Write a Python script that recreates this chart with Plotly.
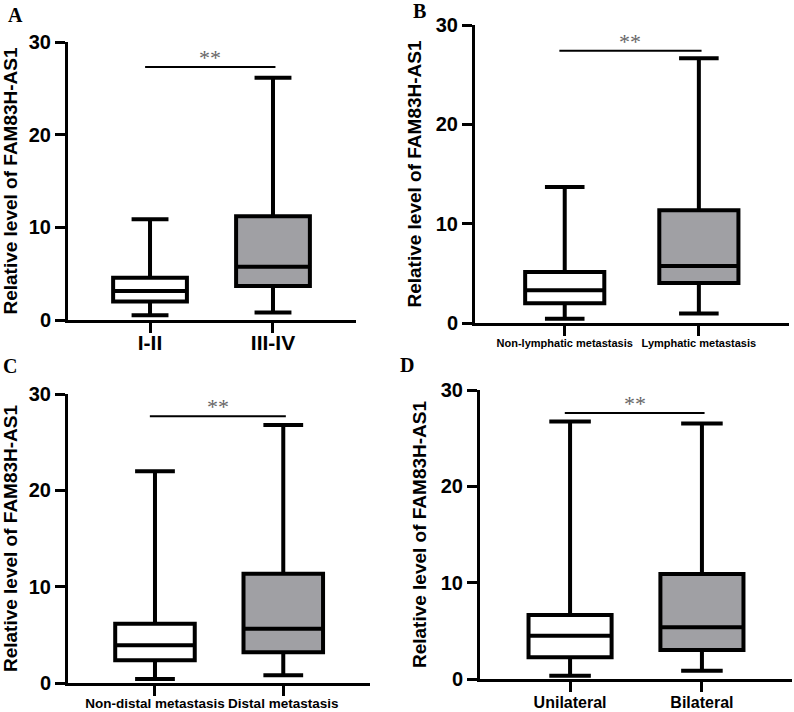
import plotly.graph_objects as go

# ---------------- data ----------------
panel_letters = ["A", "B", "C", "D"]
group_labels = [
    ["I-II", "III-IV"],
    ["Non-lymphatic metastasis", "Lymphatic metastasis"],
    ["Non-distal metastasis", "Distal metastasis"],
    ["Unilateral", "Bilateral"],
]
mins = [[0.5, 0.8], [0.44, 0.95], [0.42, 0.8], [0.35, 0.86]]
q1s = [[2.0, 3.67], [2.0, 4.03], [2.36, 3.19], [2.25, 3.0]]
medians = [[3.13, 5.75], [3.3, 5.75], [3.92, 5.62], [4.5, 5.36]]
q3s = [[4.57, 11.2], [5.14, 11.36], [6.14, 11.34], [6.64, 10.89]]
maxs = [[10.86, 26.15], [13.7, 26.65], [21.99, 26.78], [26.73, 26.52]]
sig_levels = [27.3, 27.4, 27.7, 27.6]
sig_text = ["**", "**", "**", "**"]
y_ticks = [0, 10, 20, 30]
y_title = "Relative level of FAM83H-AS1"

# ---------------- layout helpers ----------------
W, H = 794, 712
# pixel boxes of each plot area: (x_left, x_right, y_top, y_bottom)
areas = [(68, 356, 42, 320), (475, 789, 25, 323), (68, 370, 394, 683), (480, 792, 390, 679)]
xranges = [[-0.667, 1.675], [-0.669, 1.672], [-0.678, 1.676], [-0.683, 1.683]]
box_widths = [0.6, 0.59, 0.62, 0.63]
xtick_sizes = [21, 11, 13.5, 16]
xtick_standoff = [-8, -2, -4, -3]
letter_pos = [(15, 15), (419, 11), (10, 366), (407, 365)]
fills = ["white", "#a0a0a4"]

fig = go.Figure()
annotations = []
shapes = []
for p in range(4):
    ax = "" if p == 0 else str(p + 1)
    xa, ya = "x" + ax, "y" + ax
    for g in range(2):
        fig.add_trace(go.Box(
            x=[g], q1=[q1s[p][g]], median=[medians[p][g]], q3=[q3s[p][g]],
            lowerfence=[mins[p][g]], upperfence=[maxs[p][g]],
            fillcolor=fills[g], line=dict(color="black", width=4),
            whiskerwidth=0.5, width=box_widths[p], boxpoints=False,
            xaxis=xa, yaxis=ya, showlegend=False, hoverinfo="skip",
        ))
    xl, xr, yt, yb = areas[p]
    axis_common = dict(showline=True, linecolor="black", linewidth=3,
                       ticks="outside", ticklen=10, tickwidth=3, tickcolor="black",
                       showgrid=False, zeroline=False, fixedrange=True,
                       automargin=False)
    fig.layout["xaxis" + ax] = dict(
        domain=[xl / W, xr / W], range=xranges[p], anchor=ya,
        tickvals=[0, 1], ticktext=group_labels[p],
        ticklabelstandoff=xtick_standoff[p],
        tickfont=dict(family="Arial, Liberation Sans", size=xtick_sizes[p],
                      color="black", weight="bold"),
        **axis_common)
    fig.layout["yaxis" + ax] = dict(
        domain=[1 - yb / H, 1 - yt / H], range=[0, 30], anchor=xa,
        tickvals=y_ticks,
        tickfont=dict(family="Arial, Liberation Sans", size=20, color="black", weight="bold"),
        title=dict(text=y_title, standoff=10,
                   font=dict(family="Arial, Liberation Sans", size=19, color="black",
                             weight="bold")),
        **axis_common)
    # significance bar
    shapes.append(dict(type="line", xref=xa, yref=ya, x0=-0.04, x1=1.02,
                       y0=sig_levels[p], y1=sig_levels[p],
                       line=dict(color="black", width=2)))
    annotations.append(dict(xref=xa, yref=ya, x=0.49, y=sig_levels[p],
                            text=sig_text[p], showarrow=False, yanchor="bottom",
                            yshift=-5,
                            font=dict(family="Liberation Serif, Times New Roman", size=22,
                                      color="#666666")))
    lx, ly = letter_pos[p]
    annotations.append(dict(xref="paper", yref="paper", x=lx / W, y=1 - ly / H,
                            text="<b>" + panel_letters[p] + "</b>", showarrow=False,
                            xanchor="center", yanchor="middle",
                            font=dict(family="Liberation Serif, Times New Roman", size=20,
                                      color="black")))

fig.update_layout(width=W, height=H, margin=dict(l=0, r=0, t=0, b=0, autoexpand=False),
                  plot_bgcolor="white", paper_bgcolor="white",
                  annotations=annotations, shapes=shapes, boxmode="overlay")
fig.write_html("out.html")
